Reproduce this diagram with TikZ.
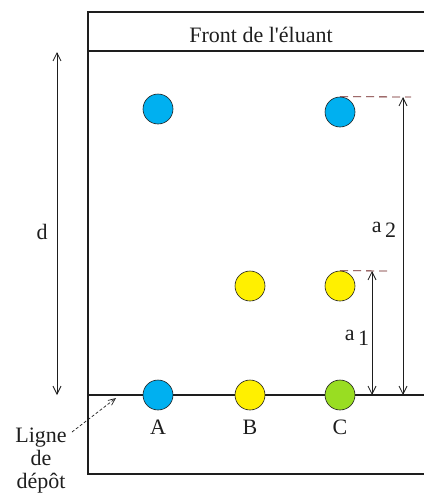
\documentclass[tikz,border=0pt]{standalone}
\usepackage{fontspec}
\setmainfont{Liberation Serif}
\usepackage{tikz}
\usetikzlibrary{arrows.meta,positioning}
\definecolor{ccmBlue}{HTML}{00B0F0}
\definecolor{ccmYellow}{HTML}{FFF000}
\definecolor{ccmGreen}{HTML}{99DD22}
\definecolor{ccmInk}{HTML}{1E1E1E}
\definecolor{ccmDash}{HTML}{6A1A1A}
\tikzset{
  ccm diagram/.style={font=\fontsize{22}{26}\selectfont, text=ccmInk,
    line cap=butt, line join=miter},
  ccm plate/.style={draw=ccmInk, line width=1.2pt},
  ccm spot/.style={circle, draw=ccmInk, line width=0.6pt,
    minimum size=30pt, inner sep=0pt},
  ccm arrow/.style={{Straight Barb[length=8pt,width=8pt]}-{Straight Barb[length=8pt,width=8pt]},
    draw=ccmInk, line width=0.8pt},
  ccm pointer/.style={-{Straight Barb[length=7pt,width=6pt]}, draw=ccmInk,
    line width=0.7pt, densely dashed},
  ccm level/.style={draw=ccmDash, line width=0.8pt, dash pattern=on 8pt off 5pt},
  ccm label/.style={inner sep=1pt}
}
\begin{document}
\begin{tikzpicture}[ccm diagram,x=1pt,y=-1pt]
\useasboundingbox (0,0) rectangle (424,493);
% plaque
\draw[ccm plate] (424,12) -- (88,12) -- (88,474) -- (424,474);
\draw[ccm plate] (88,51) -- (424,51);
\draw[ccm plate] (88,395) -- (424,395);
\node[ccm label] (front) at (261,35) {Front de l\textquotesingle éluant};
% taches
\node[ccm spot, fill=ccmBlue] (A0) at (158,395) {};
\node[ccm spot, fill=ccmYellow] (B0) at (250,395) {};
\node[ccm spot, fill=ccmGreen] (C0) at (340,395) {};
\node[ccm spot, fill=ccmBlue] (A1) at (158,109) {};
\node[ccm spot, fill=ccmYellow] (B1) at (250,286) {};
\node[ccm spot, fill=ccmYellow] (C1) at (340,286) {};
\node[ccm spot, fill=ccmBlue] (C2) at (340,112) {};
\node[ccm label] (lA) at (158,427) {A};
\node[ccm label] (lB) at (250,427) {B};
\node[ccm label] (lC) at (340,427) {C};
% distances
\coordinate (d top) at (57,52);
\coordinate (d bot) at (57,395);
\draw[ccm arrow] (d top) -- (d bot);
\node[ccm label] (d) at (42,232) {d};
\coordinate (a2 top) at (403,97);
\coordinate (a2 bot) at (403,395);
\coordinate (a2 end) at (411,97);
\draw[ccm level] (C2.north) -- (a2 end);
\draw[ccm arrow] (a2 top) -- (a2 bot);
\node[ccm label] (a2) at (384,230) {a\,\raisebox{-0.5ex}{2}};
\coordinate (a1 top) at (372,271);
\coordinate (a1 bot) at (372,395);
\coordinate (a1 end) at (388,271);
\draw[ccm level] (C1.north) -- (a1 end);
\draw[ccm arrow] (a1 top) -- (a1 bot);
\node[ccm label] (a1) at (357,338) {a\,\raisebox{-0.5ex}{1}};
% ligne de depot
\node[ccm label, align=center, font=\fontsize{22}{23}\selectfont] (depot) at (41,461) {Ligne\\de\\dépôt};
\coordinate (depot tip) at (116,398);
\draw[ccm pointer] (72,432) -- (depot tip);
\end{tikzpicture}
\end{document}
